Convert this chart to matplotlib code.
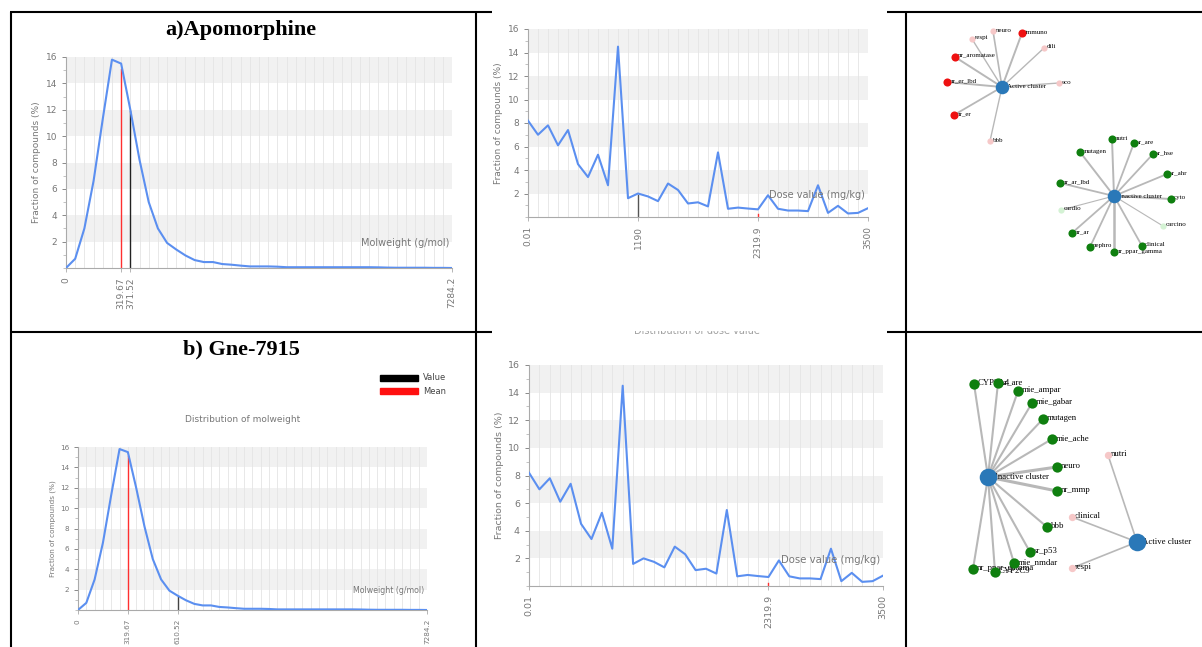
import numpy as np
import matplotlib
matplotlib.use("Agg")
import matplotlib.pyplot as plt
from matplotlib.patches import Rectangle
from matplotlib.transforms import Bbox

W, H = 1202, 647

# ---------------- data ----------------
molweight_frac = [0.0, 0.7, 3.0, 6.6, 11.3, 15.8, 15.5, 12.0, 8.2, 5.0, 3.0, 1.9, 1.4,
                  0.95, 0.6, 0.45, 0.45, 0.3, 0.25, 0.18, 0.12, 0.12, 0.12, 0.1, 0.06,
                  0.06, 0.06, 0.06, 0.06, 0.06, 0.06, 0.06, 0.06, 0.06, 0.05, 0.03,
                  0.02, 0.02, 0.02, 0.02, 0.01, 0.01, 0.0]
dose_frac = [8.2, 7.0, 7.8, 6.1, 7.4, 4.5, 3.4, 5.3, 2.7, 14.5, 1.6, 2.0, 1.75, 1.35,
             2.85, 2.3, 1.15, 1.25, 0.9, 5.5, 0.7, 0.8, 0.72, 0.65, 1.85, 0.7, 0.55,
             0.55, 0.5, 2.7, 0.35, 0.95, 0.3, 0.35, 0.75]

# tick labels (bin index, label)
mw_ticks_a = [(0, "0"), (6, "319.67"), (7, "371.52"), (42, "7284.2")]
mw_ticks_b = [(0, "0"), (6, "319.67"), (12, "610.52"), (42, "7284.2")]
dose_ticks_a = [(0, "0.01"), (11, "1190"), (23, "2319.9"), (34, "3500")]
dose_ticks_b = [(0, "0.01"), (23, "2319.9"), (34, "3500")]

# mean / value bin indices
mw_mean_a, mw_value_a = 6, 7
mw_mean_b, mw_value_b = 6, 12
dose_mean, dose_value_a = 23, 11

# networks: (label, x, y, kind)
net_top_active_hub = ("Active cluster", 1002, 87)
net_top_active = [("neuro", 993, 31, "pink"), ("immuno", 1022, 33, "red"),
                  ("respi", 972, 39, "pink"), ("dili", 1044, 48, "pink"),
                  ("nr_aromatase", 955, 57, "red"), ("nr_er_lbd", 947, 82, "red"),
                  ("eco", 1059, 83, "pink"), ("nr_er", 954, 115, "red"),
                  ("bbb", 990, 141, "pink")]
net_top_inactive_hub = ("Inactive cluster", 1114, 196)
net_top_inactive = [("nutri", 1112, 139, "green"), ("sr_are", 1134, 143, "green"),
                    ("mutagen", 1080, 152, "green"), ("sr_hse", 1153, 154, "green"),
                    ("sr_ahr", 1167, 174, "green"), ("nr_ar_lbd", 1060, 183, "green"),
                    ("cyto", 1171, 199, "green"), ("cardio", 1061, 210, "pale"),
                    ("carcino", 1163, 226, "pale"), ("nr_ar", 1072, 233, "green"),
                    ("nephro", 1090, 247, "green"), ("clinical", 1142, 246, "green"),
                    ("nr_ppar_gamma", 1114, 252, "green")]
net_bot_inactive_hub = ("Inactive cluster", 988, 477)
net_bot_inactive = [("CYP3A4", 974, 384, "green"), ("sr_are", 998, 383, "green"),
                    ("mie_ampar", 1018, 391, "green"), ("mie_gabar", 1032, 403, "green"),
                    ("mutagen", 1043, 419, "green"), ("mie_ache", 1052, 439, "green"),
                    ("neuro", 1057, 467, "green"), ("nr_mmp", 1057, 491, "green"),
                    ("bbb", 1047, 527, "green"), ("sr_p53", 1030, 552, "green"),
                    ("mie_nmdar", 1014, 563, "green"), ("CYP2C9", 995, 572, "green"),
                    ("nr_ppar_gamma", 973, 569, "green")]
net_bot_active_hub = ("Active cluster", 1137, 542)
net_bot_active = [("nutri", 1108, 455, "pink"), ("clinical", 1072, 517, "pink"),
                  ("respi", 1072, 568, "pink")]

# ---------------- figure ----------------
fig = plt.figure(figsize=(W / 100, H / 100), dpi=100)
fig.patch.set_facecolor("white")


def px_axes(x0, y0, x1, y1, **kw):
    return fig.add_axes([x0 / W, 1 - y1 / H, (x1 - x0) / W, (y1 - y0) / H], **kw)


LINE = "#5b8ff0"
GRAY = "#777777"


def dist_panel(rect, values, ticks, mean_idx, value_idx, xlabel, fs, value_col="#222222"):
    ax = px_axes(*rect)
    n = len(values)
    x = np.arange(n)
    ax.set_xlim(0, n - 1)
    ax.set_ylim(0, 16)
    for y0 in (2, 6, 10, 14):
        ax.axhspan(y0, y0 + 2, color="#f1f1f1", zorder=0, lw=0)
    for i in x:
        ax.axvline(i, color="#e4e4e4", lw=0.6, zorder=0.5)
    if mean_idx is not None:
        ax.plot([mean_idx, mean_idx], [0, values[mean_idx] - 0.4], color="#ff3030", lw=1.0, zorder=2)
    if value_idx is not None:
        ax.plot([value_idx, value_idx], [0, values[value_idx] - 0.1], color=value_col, lw=1.0, zorder=2)
    ax.plot(x, values, color=LINE, lw=1.5, zorder=3)
    for s in ("top", "right"):
        ax.spines[s].set_visible(False)
    for s in ("left", "bottom"):
        ax.spines[s].set_color("#aaaaaa")
        ax.spines[s].set_linewidth(0.8)
    ax.set_yticks(range(2, 17, 2))
    ax.set_yticks(range(0, 17, 1), minor=True)
    ax.set_xticks([t[0] for t in ticks])
    ax.set_xticklabels([t[1] for t in ticks], rotation=90, fontsize=fs, color=GRAY)
    ax.tick_params(axis="y", labelsize=fs, colors=GRAY, length=3, width=0.6)
    ax.tick_params(axis="y", which="minor", length=2, width=0.5, colors="#aaaaaa")
    ax.tick_params(axis="x", length=3, width=0.6, colors="#aaaaaa", labelcolor=GRAY)
    for lab in ax.get_yticklabels():
        lab.set_color(GRAY)
    ax.set_ylabel("Fraction of compounds (%)", fontsize=fs, color=GRAY, labelpad=3)
    ax.text(n - 1.3, 1.9, xlabel, ha="right", va="center", fontsize=fs + 0.5, color=GRAY, zorder=4)
    return ax


# top-left
dist_panel((66, 57, 452, 268), molweight_frac, mw_ticks_a, mw_mean_a, mw_value_a,
           "Molweight (g/mol)", 6.5)
# top-middle
dist_panel((528, 29, 868, 217), dose_frac, dose_ticks_a, dose_mean, dose_value_a,
           "Dose value (mg/kg)", 6.5, value_col="#555555")
# bottom-left
dist_panel((78, 447, 427, 610), molweight_frac, mw_ticks_b, mw_mean_b, mw_value_b,
           "Molweight (g/mol)", 5.2, value_col="#444444")
# bottom-middle
dist_panel((529, 365, 883, 586), dose_frac, dose_ticks_b, dose_mean, None,
           "Dose value (mg/kg)", 6.8)

# ---------------- overlay ----------------
ov = fig.add_axes([0, 0, 1, 1], zorder=10)
ov.set_xlim(0, W)
ov.set_ylim(H, 0)
ov.axis("off")

blk = dict(color="black", lw=1.5, solid_capstyle="butt")
ov.plot([11, 11], [12, H], **blk)
ov.plot([476, 476], [12, H], **blk)
ov.plot([906, 906], [12, H], **blk)
for yy in (12, 332):
    ov.plot([10, 492], [yy, yy], **blk)
    ov.plot([887, W], [yy, yy], **blk)

serif = "Liberation Serif"
ov.text(241, 30, "a)Apomorphine", ha="center", va="center", fontsize=16,
        fontweight="bold", family=serif)
ov.text(241, 349, "b) Gne-7915", ha="center", va="center", fontsize=16,
        fontweight="bold", family=serif)

# bottom-left chart title and legend
ov.text(243, 419, "Distribution of molweight", ha="center", va="center", fontsize=6.5, color=GRAY)
ov.add_patch(Rectangle((380, 375), 38, 6, color="black"))
ov.add_patch(Rectangle((380, 388), 38, 6, color="#ff1010"))
ov.text(423, 378, "Value", fontsize=6, va="center", color="#444444")
ov.text(423, 391, "Mean", fontsize=6, va="center", color="#444444")

# clipped title of bottom-middle chart (display coords: pixels from bottom)
t = ov.text(697, 330.5, "Distribution of dose value", ha="center", va="center",
            fontsize=7, color="#a0a0a0")
t.set_clip_box(Bbox([[480, H - 345], [900, H - 330.5]]))
t.set_clip_on(True)

# networks
COL = {"red": "#ee1111", "pink": "#f6c8c8", "green": "#0f7f0f", "pale": "#d4f2d4"}


def network(hub, nodes, s_node, s_hub, fs, lw_edges, s_light, dx, dxh):
    hx, hy = hub[1], hub[2]
    for (name, x, y, kind), lw in zip(nodes, lw_edges):
        ov.plot([hx, x], [hy, y], color="#b8b8b8", lw=lw, zorder=1)
    for name, x, y, kind in nodes:
        s = s_node if kind in ("red", "green") else s_light
        ov.scatter([x], [y], s=s, color=COL[kind], zorder=3, lw=0)
        ov.text(x + dx, y - 1, name, fontsize=fs, family=serif, ha="left", va="center", zorder=2)
    ov.scatter([hx], [hy], s=s_hub, color="#2a78b8", zorder=3, lw=0)
    ov.text(hx + dxh, hy, hub[0], fontsize=fs, family=serif, ha="left", va="center", zorder=2)


network(net_top_active_hub, net_top_active, 34, 95, 5.0,
        [1.2, 1.4, 1.0, 1.0, 1.4, 1.4, 1.0, 1.3, 1.0], 20, 2.5, 5.0)
network(net_top_inactive_hub, net_top_inactive, 34, 95, 5.0,
        [1.4, 1.3, 1.4, 1.3, 1.3, 1.3, 1.4, 0.8, 0.8, 1.3, 1.3, 1.3, 1.8], 20, 2.5, 5.0)
network(net_bot_inactive_hub, net_bot_inactive, 55, 160, 6.3,
        [1.5, 1.5, 1.5, 1.5, 1.5, 1.5, 2.2, 2.2, 1.5, 1.5, 1.5, 1.5, 1.5], 28, 3.5, 7.0)
network(net_bot_active_hub, net_bot_active, 55, 160, 6.3, [1.2, 1.2, 1.2], 28, 2.5, 5.0)

fig.savefig("out.png", dpi=100, facecolor="white")
